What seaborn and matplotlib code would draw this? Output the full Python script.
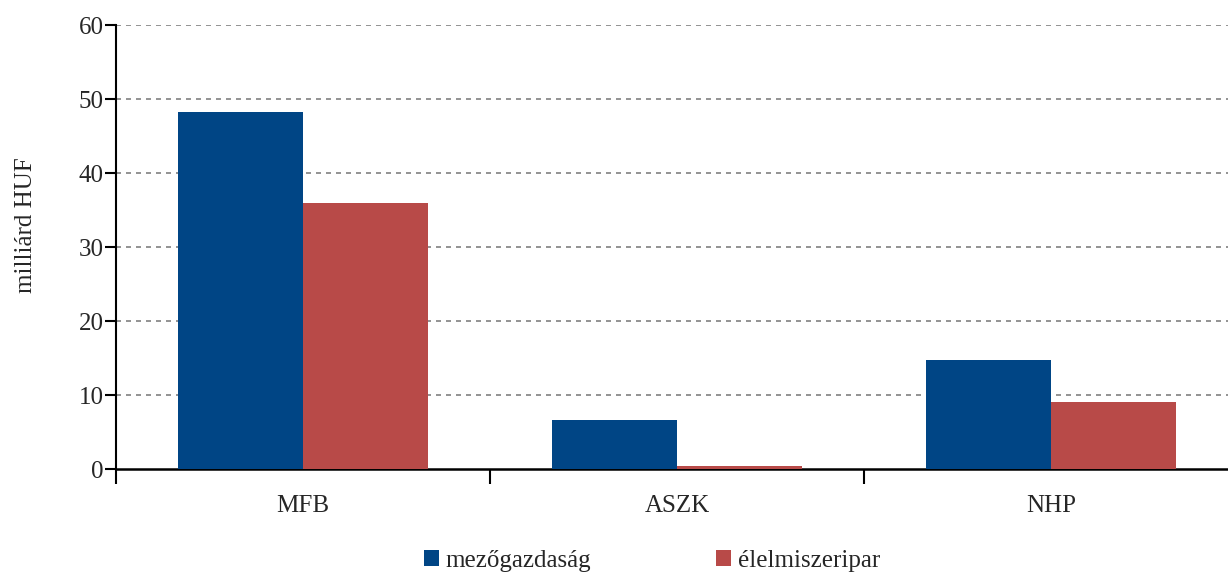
import numpy as np
import pandas as pd
import matplotlib.pyplot as plt
import seaborn as sns

# data
categories = ["MFB", "ASZK", "NHP"]
mezogazdasag = [48.2, 6.6, 14.7]
elelmiszeripar = [35.9, 0.4, 9.0]
series_names = ["mezőgazdaság", "élelmiszeripar"]

df = pd.DataFrame({
    "kategoria": categories * 2,
    "ertek": mezogazdasag + elelmiszeripar,
    "agazat": [series_names[0]] * 3 + [series_names[1]] * 3,
})

sns.set_style("white")
plt.rcParams["font.family"] = ["Liberation Serif", "DejaVu Serif"]

fig = plt.figure(figsize=(12.28, 5.78), dpi=100)
ax = fig.add_axes([116 / 1228, 1 - 469 / 578, 1122 / 1228, 444 / 578])

sns.barplot(data=df, x="kategoria", y="ertek", hue="agazat",
            palette=["#004585", "#b84a48"], width=0.67, saturation=1,
            linewidth=0, ax=ax, legend=True)

ax.set_ylim(0, 60)
ax.set_xlim(-0.5, 2.5)
ax.set_yticks(range(0, 61, 10))
# dashed grid lines (not at zero, where the axis line is)
for v in range(10, 61, 10):
    ax.axhline(v, linestyle=(0, (3, 3)), color="#808080", linewidth=1.2, zorder=0)

for s in ["top", "right"]:
    ax.spines[s].set_visible(False)
ax.spines["left"].set_color("black")
ax.spines["left"].set_linewidth(1.5)
ax.spines["bottom"].set_color("black")
ax.spines["bottom"].set_linewidth(1.8)
ax.spines["bottom"].set_zorder(0.5)

ax.tick_params(axis="y", length=8, width=1.5, color="black", labelsize=18, pad=1,
               left=True, direction="out")
ax.set_xticks([-0.5, 0.5, 1.5, 2.5], minor=True)
ax.tick_params(axis="x", which="minor", length=11, width=1.5, color="black",
               bottom=True, direction="out")
ax.tick_params(axis="x", which="major", length=0, labelsize=18, pad=19)

ax.set_xlabel("")
ax.set_ylabel("milliárd HUF", fontsize=18)
ax.yaxis.set_label_coords(-0.07, 0.55)

handles, labels = ax.get_legend_handles_labels()
ax.get_legend().remove()
fig.legend(handles, labels, loc="lower center", ncol=2, frameon=False,
           fontsize=18, bbox_to_anchor=(0.531, -0.028), handlelength=0.6,
           handleheight=0.6, handletextpad=0.25, columnspacing=5.0)

plt.savefig("out.png", dpi=100)
